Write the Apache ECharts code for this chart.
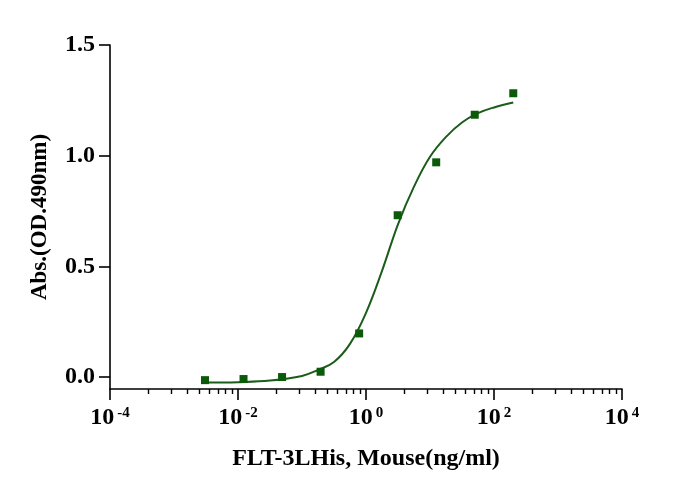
<!DOCTYPE html>
<html>
<head>
<meta charset="utf-8">
<title>FLT-3LHis, Mouse</title>
<style>
html, body { margin: 0; padding: 0; background: #fff; }
#chart { width: 694px; height: 495px; }
</style>
</head>
<body>
<div id="chart"></div>
<script src="https://cdn.jsdelivr.net/npm/echarts@6/dist/echarts.min.js"></script>
<script>
// measured points (ng/ml, OD490)
var conc = [0.00305, 0.0122, 0.0488, 0.1953, 0.7813, 3.125, 12.5, 50, 200];
var absorb = [-0.014, -0.009, 0.000, 0.024, 0.197, 0.731, 0.970, 1.185, 1.282];

// fitted curve
var fitConc = [0.003, 0.01, 0.0316, 0.1, 0.178, 0.316, 0.562, 1, 1.78, 3.16, 5.62, 10, 17.8, 31.6, 56.2, 100, 200];
var fitAbs = [-0.025, -0.023, -0.016, 0.005, 0.032, 0.068, 0.150, 0.290, 0.480, 0.690, 0.860, 0.995, 1.085, 1.150, 1.192, 1.218, 1.240];

var xTickValues = [0.0001, 0.01, 1, 100, 10000];
var yTickValues = [0, 0.5, 1.0, 1.5];

var font = 'Liberation Serif';
var green = '#0a5a0a';

// prism style minor ticks: k^2 steps inside each 2-decade interval
var minorTicks = [];
xTickValues.slice(0, -1).forEach(function (m) {
    for (var k = 2; k <= 9; k++) minorTicks.push(m * k * k);
});

var pts = conc.map(function (c, i) { return [c, absorb[i]]; });
var fit = fitConc.map(function (c, i) { return [c, fitAbs[i]]; });

var chart = echarts.init(document.getElementById('chart'));
chart.setOption({
    animation: false,
    grid: { left: 110, right: 72, top: 45, bottom: 106 },
    xAxis: [
        {
            type: 'log',
            logBase: 10,
            min: 0.0001,
            max: 10000,
            name: 'FLT-3LHis, Mouse(ng/ml)',
            nameLocation: 'middle',
            nameGap: 58,
            nameTextStyle: { fontFamily: font, fontWeight: 'bold', fontSize: 24, color: '#000' },
            axisLine: { onZero: false, lineStyle: { color: '#000', width: 1.6 } },
            axisTick: { customValues: xTickValues, length: 11, lineStyle: { color: '#000', width: 1.6 } },
            axisLabel: {
                customValues: xTickValues,
                margin: 17,
                formatter: function (v) {
                    var e = Math.round(Math.log10(v));
                    return '{b|10}{s|' + e + '}';
                },
                rich: {
                    b: { fontFamily: font, fontWeight: 'bold', fontSize: 24, color: '#000' },
                    s: { fontFamily: font, fontWeight: 'bold', fontSize: 15, color: '#000', verticalAlign: 'top', padding: [0, 0, 0, 3] }
                }
            },
            splitLine: { show: false },
            minorTick: { show: false }
        },
        {
            type: 'log',
            logBase: 10,
            min: 0.0001,
            max: 10000,
            position: 'bottom',
            axisLine: { show: false, onZero: false },
            axisTick: { customValues: minorTicks, length: 5, lineStyle: { color: '#000', width: 1.4 } },
            axisLabel: { show: false },
            splitLine: { show: false }
        }
    ],
    yAxis: {
        type: 'value',
        min: -0.054,
        max: 1.5,
        name: 'Abs.(OD.490nm)',
        nameLocation: 'middle',
        nameGap: 58,
        nameTextStyle: { fontFamily: font, fontWeight: 'bold', fontSize: 23, color: '#000' },
        axisLine: { show: true, onZero: false, lineStyle: { color: '#000', width: 1.6 } },
        axisTick: { show: true, customValues: yTickValues, length: 11, lineStyle: { color: '#000', width: 1.6 } },
        axisLabel: {
            customValues: yTickValues,
            margin: 15,
            fontFamily: font,
            fontWeight: 'bold',
            fontSize: 24,
            color: '#000',
            formatter: function (v) { return v.toFixed(1); }
        },
        splitLine: { show: false }
    },
    series: [
        {
            type: 'line',
            data: fit,
            smooth: 0.4,
            showSymbol: false,
            lineStyle: { color: '#1b5c1b', width: 2 },
            z: 2
        },
        {
            type: 'scatter',
            data: pts,
            symbol: 'rect',
            symbolSize: 8,
            itemStyle: { color: green, opacity: 1 },
            z: 3
        }
    ]
});
</script>
</body>
</html>
